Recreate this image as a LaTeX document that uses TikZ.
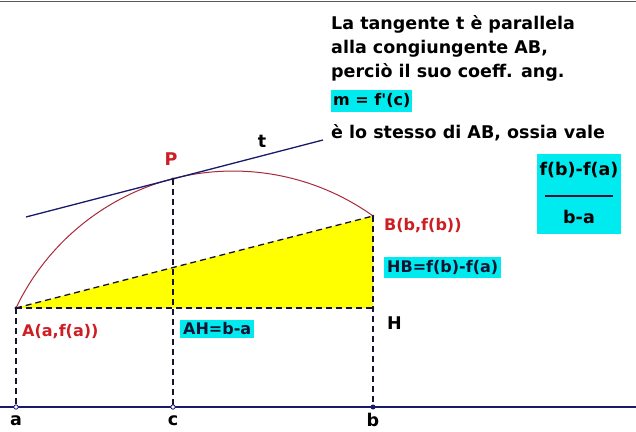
\documentclass[tikz,border=0pt]{standalone}
\usepackage{fontspec}
\setmainfont{DejaVu Sans}[Ligatures=TeXOff]
\definecolor{redc}{RGB}{205,30,35}
\definecolor{curvec}{RGB}{170,40,60}
\definecolor{navyc}{RGB}{25,25,110}
\definecolor{cyanc}{RGB}{0,235,240}
\definecolor{dashc}{RGB}{20,20,50}
\definecolor{yel}{RGB}{255,255,0}
\newcommand{\bigf}{\fontsize{17.5}{21}\selectfont\bfseries}
\newcommand{\lblf}{\fontsize{16}{19}\selectfont\bfseries}
\tikzset{
  dashln/.style={draw=dashc, line width=1.3pt, dash pattern=on 6pt off 4pt},
  lbl/.style={font=\lblf, inner sep=0pt},
  txt/.style={font=\bigf, inner sep=0pt, anchor=base west},
  cbox/.style={fill=cyanc, inner sep=3pt},
}
\begin{document}
\begin{tikzpicture}[x=1pt,y=1pt]
\useasboundingbox (0,0) rectangle (636,431);
\fill[white] (0,0) rectangle (636,431);
\draw[gray!70!black, line width=1.6pt] (0,429.5) -- (636,429.5);
% points
\coordinate (A) at (16,123);
\coordinate (B) at (373,215);
\coordinate (H) at (373,123);
\coordinate (P) at (173,252);
\coordinate (a) at (16,24);
\coordinate (c) at (173,24);
\coordinate (b) at (373,24);
\coordinate (t1) at (26,214);
\coordinate (t2) at (323,291);
\coordinate (x0) at (0,24);
\coordinate (x1) at (636,24);
% triangle
\fill[yel] (A) -- (H) -- (B) -- cycle;
\draw[dashln] (A) -- (B);
\draw[dashln] (A) -- (H);
\draw[dashln] (B) -- (b);
\draw[dashln] (A) -- (a);
\draw[dashln] (P) -- (c);
% curve
\draw[curvec, line width=1pt] (A) arc[start angle=154.5, end angle=54.4, radius=240.5];
% tangent
\draw[navyc, line width=1.3pt] (t1) -- (t2);
% axis
\draw[navyc, line width=1.5pt] (x0) -- (x1);
\filldraw[navyc, fill=white, line width=0.8pt] (a) circle (2.2);
\filldraw[navyc, fill=white, line width=0.8pt] (c) circle (2.2);
\fill[navyc] (b) circle (2.5);
\fill[dashc] (A) circle (1.6);
\fill[dashc] (P) circle (1.6);
\fill[dashc] (H) circle (1.3);
\fill[dashc] (B) circle (1.3);
% labels
\node[lbl, text=redc, font=\bigf] (lP) at (171,272) {P};
\node[lbl, font=\bigf] (lt) at (262,290) {t};
\node[lbl, text=redc, anchor=west] (lB) at (384,205) {B(b,f(b))};
\node[lbl, cbox, text=dashc, anchor=west] (lHB) at (384,163.5) {HB=f(b)-f(a)};
\node[lbl, font=\bigf, anchor=west] (lH) at (387,108) {H};
\node[lbl, text=redc, anchor=west] (lA) at (22,99) {A(a,f(a))};
\node[lbl, cbox, text=dashc, anchor=west] (lAH) at (180,102) {AH=b-a};
\node[lbl, font=\bigf] (la) at (16,10) {a};
\node[lbl, font=\bigf] (lc) at (173,10) {c};
\node[lbl, font=\bigf] (lb) at (373,11) {b};
% text block
\node[txt] (l1) at (331,401) {La tangente t è parallela};
\node[txt] (l2) at (331,377) {alla congiungente AB,};
\node[txt] (l3) at (331,353) {perciò il suo coeff. ang.};
\node[txt, fill=cyanc, inner xsep=2pt, inner ysep=4pt, font=\lblf] (l4) at (331,325) {m = f'(c)};
\node[txt] (l5) at (331,292) {è lo stesso di AB, ossia vale};
% fraction box
\node[fill=cyanc, minimum width=84pt, minimum height=80pt, inner sep=0pt] (fb) at (579,237) {};
\node[lbl, font=\bigf] (num) at (579,261) {f(b)-f(a)};
\node[lbl, font=\bigf] (den) at (579,214) {b-a};
\coordinate (fl) at (545,235);
\coordinate (fr) at (613,235);
\draw[dashc, line width=1.3pt] (fl) -- (fr);
\end{tikzpicture}
\end{document}
